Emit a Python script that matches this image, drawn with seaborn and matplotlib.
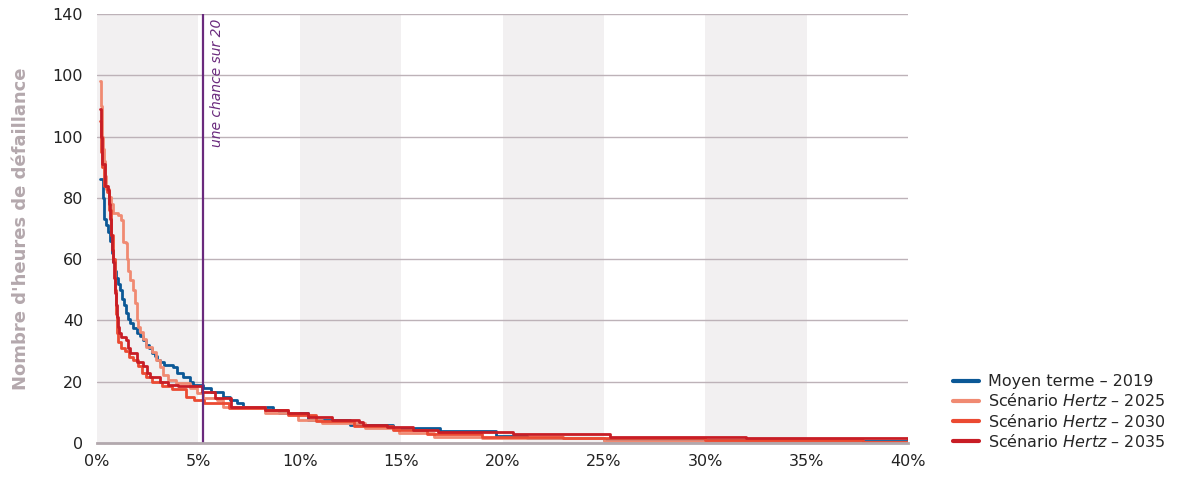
import matplotlib
matplotlib.use("Agg")
import matplotlib.pyplot as plt
import numpy as np
import pandas as pd
import seaborn as sns

# Exceedance curves: share of years (%) vs. hours of supply failure
x_2019 = [0.15, 0.3, 0.35, 0.45, 0.55, 0.65, 0.72, 0.8, 0.88, 0.95, 1.05, 1.15, 1.25, 1.35, 1.45,
          1.55, 1.65, 1.8, 1.95, 2.1, 2.25, 2.4, 2.55, 2.7, 2.85, 2.95, 3.1, 3.3, 3.75, 3.95, 4.25,
          4.6, 4.75, 5.25, 5.6, 6.2, 6.55, 6.9, 7.2, 8.7, 9.0, 10.4, 12.5, 14.6, 16.9, 19.7, 21.2,
          25.0, 32.0, 40.0]
y_2019 = [86, 80, 73, 71, 69, 66, 62, 59, 56, 54, 52, 50, 47, 45, 42.5,
          40.5, 39, 37.5, 36, 35, 33.5, 32, 31, 29.5, 28.5, 27, 26.3, 25.5, 24.8, 22.8, 21.6,
          20, 19, 18, 16.5, 15, 14, 13, 11.7, 10.8, 9.8, 7.5, 6, 5, 4, 2.3, 1.5,
          1, 0.7, 0.7]

x_2025 = [0.15, 0.2, 0.25, 0.3, 0.35, 0.4, 0.45, 0.6, 0.7, 0.8, 1.05, 1.2, 1.28, 1.45, 1.5, 1.55,
          1.63, 1.78, 1.9, 1.97, 2.02, 2.1, 2.25, 2.4, 2.7, 2.9, 3.1, 3.25, 3.5, 3.9, 4.6, 4.95,
          5.25, 5.9, 6.2, 8.3, 9.9, 11.1, 13.2, 14.9, 16.6, 19.0, 25.0, 30.0, 37.0, 40.0]
y_2025 = [118, 110, 100, 96, 92, 87, 83, 80.3, 78, 75, 74.4, 72.8, 65.6, 65.3, 60, 56,
          53.2, 50, 45.7, 40, 37.9, 36.2, 34, 31.3, 29.7, 27, 24.8, 22.2, 20.6, 19.6, 17.9, 16.3,
          14.7, 14, 11.7, 9.8, 7.5, 6.5, 5, 3.3, 2, 1.5, 0.7, 0.5, 0.3, 0.3]

x_2030 = [0.15, 0.2, 0.25, 0.35, 0.5, 0.6, 0.7, 0.8, 0.9, 0.95, 1.0, 1.05, 1.2, 1.4, 1.6, 1.8,
          2.0, 2.2, 2.4, 2.7, 3.2, 3.7, 4.4, 4.8, 5.3, 6.5, 8.3, 9.4, 10.8, 12.7, 14.6, 16.3,
          19.0, 23.0, 30.0, 37.8, 40.0]
y_2030 = [105, 95, 90, 84, 82, 76, 68, 60, 50, 42, 36, 33, 31, 30, 28, 27,
          25, 23, 21.5, 20, 18.5, 17.5, 15, 14, 13, 11.5, 10.8, 9, 7.2, 5.5, 4.2, 3,
          2, 1.5, 1, 0.3, 0.3]

x_2035 = [0.15, 0.2, 0.25, 0.4, 0.55, 0.6, 0.65, 0.7, 0.75, 0.8, 0.85, 0.9, 0.95, 1.0, 1.05, 1.1,
          1.2, 1.45, 1.55, 1.65, 1.95, 2.25, 2.45, 2.6, 3.1, 3.5, 4.0, 4.6, 5.2, 5.8, 6.6, 7.8,
          8.3, 9.4, 10.4, 11.6, 12.9, 13.1, 14.3, 15.6, 16.8, 20.5, 25.3, 32.0, 40.0]
y_2035 = [109, 100, 91, 84, 82.5, 78, 73, 68, 63, 59, 54, 49, 45, 41, 38, 36,
          34.5, 33.5, 31, 29.5, 26.5, 25, 23, 21.5, 20, 19, 18.5, 18.5, 16.5, 14.7, 11.7, 11.7,
          10.8, 9.8, 8.5, 7.5, 6.9, 5.9, 5.2, 4.2, 3.6, 3, 2, 1.6, 1.3]

series_names = ["Moyen terme – 2019",
                "Scénario $\\mathit{Hertz}$ – 2025",
                "Scénario $\\mathit{Hertz}$ – 2030",
                "Scénario $\\mathit{Hertz}$ – 2035"]
series_x = [x_2019, x_2025, x_2030, x_2035]
series_y = [y_2019, y_2025, y_2030, y_2035]
series_colors = ["#0b5896", "#f08a72", "#eb4a32", "#c81d25"]

y_ticks = [0, 20, 40, 60, 80, 100, 120, 140]
y_tick_labels = ["0", "20", "40", "60", "80", "100", "100", "140"]
x_ticks = [0, 5, 10, 15, 20, 25, 30, 35, 40]
x_tick_labels = ["0%", "5%", "10%", "15%", "20%", "25%", "30%", "35%", "40%"]
one_in_twenty = 5.23

df = pd.concat([pd.DataFrame({"x": xs, "y": ys, "serie": name})
                for name, xs, ys in zip(series_names, series_x, series_y)],
               ignore_index=True)

sns.set_theme(style="white")
plt.rcParams["font.family"] = ["DejaVu Sans"]
plt.rcParams["mathtext.fontset"] = "dejavusans"

fig = plt.figure(figsize=(11.81, 4.82), dpi=100)
ax = fig.add_axes([0.0821, 0.0809, 0.6868, 0.8901])

# alternating shaded bands every other 5 %
for start in range(0, 40, 10):
    ax.axvspan(start, start + 5, color="#f2f0f1", zorder=0, lw=0)

for yv in y_ticks[1:]:
    ax.axhline(yv, color="#bdb2b8", lw=1.0, zorder=1)

sns.lineplot(data=df, x="x", y="y", hue="serie", palette=dict(zip(series_names, series_colors)),
             hue_order=series_names, estimator=None, sort=False, drawstyle="steps-post",
             lw=2.0, ax=ax, zorder=3)

ax.axvline(one_in_twenty, color="#6a2a7d", lw=1.6, zorder=4)
ax.text(one_in_twenty + 0.35, 138.5, "une chance sur 20", rotation=90, va="top", ha="left",
        fontsize=10, style="italic", color="#6a2a7d")

ax.set_xlim(0, 40)
ax.set_ylim(0, 140)
ax.set_xticks(x_ticks)
ax.set_xticklabels(x_tick_labels)
ax.set_yticks(y_ticks)
ax.set_yticklabels(y_tick_labels)
ax.tick_params(axis="both", length=0, labelsize=11.5, colors="#222222")
ax.tick_params(axis="x", pad=8)
ax.tick_params(axis="y", pad=10)
ax.set_xlabel("")
ax.set_ylabel("Nombre d'heures de défaillance", fontsize=13, fontweight="bold",
              color="#b4a8ad", labelpad=16)

for side in ["top", "right", "left"]:
    ax.spines[side].set_visible(False)
ax.spines["bottom"].set_color("#b2a8ad")
ax.spines["bottom"].set_linewidth(2)
ax.spines["bottom"].set_zorder(5)

handles, labels = ax.get_legend_handles_labels()
ax.legend_.remove()
for h in handles:
    h.set_linewidth(3)
fig.legend(handles, labels, loc="lower left", bbox_to_anchor=(0.795, 0.037), frameon=False,
           fontsize=11.5, handlelength=1.6, handletextpad=0.6, labelspacing=0.2)

fig.savefig("out.png", dpi=100)
